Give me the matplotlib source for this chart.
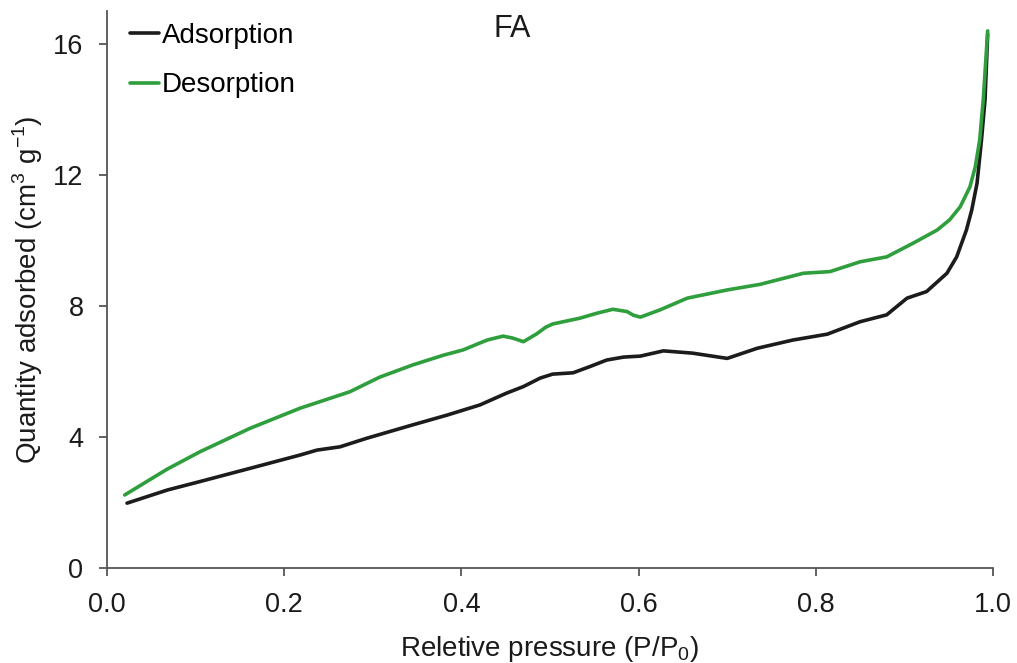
import numpy as np
import matplotlib.pyplot as plt

plt.rcParams['font.family'] = ['Liberation Sans', 'DejaVu Sans']
plt.rcParams['mathtext.fontset'] = 'custom'
plt.rcParams['mathtext.rm'] = 'Liberation Sans'

# adsorption branch (P/P0, cm3/g)
ads_x = [0.0226, 0.068, 0.105, 0.161, 0.218, 0.237, 0.263, 0.293, 0.331, 0.345,
         0.384, 0.421, 0.451, 0.470, 0.489, 0.503, 0.526, 0.545, 0.564, 0.583,
         0.602, 0.628, 0.661, 0.700, 0.734, 0.774, 0.813, 0.850, 0.880, 0.903,
         0.925, 0.948, 0.959, 0.970, 0.976, 0.982, 0.987, 0.991, 0.994]
ads_y = [1.98, 2.38, 2.64, 3.04, 3.45, 3.60, 3.70, 3.96, 4.26, 4.37,
         4.67, 4.98, 5.34, 5.54, 5.80, 5.92, 5.96, 6.15, 6.35, 6.44,
         6.47, 6.63, 6.56, 6.40, 6.71, 6.96, 7.14, 7.52, 7.73, 8.24,
         8.44, 9.00, 9.50, 10.32, 10.93, 11.75, 13.07, 14.30, 16.30]

# desorption branch
des_x = [0.020, 0.068, 0.105, 0.161, 0.218, 0.274, 0.308, 0.345, 0.380, 0.402,
         0.429, 0.447, 0.458, 0.470, 0.485, 0.495, 0.503, 0.534, 0.553, 0.571,
         0.587, 0.594, 0.602, 0.624, 0.655, 0.700, 0.737, 0.786, 0.816, 0.850,
         0.880, 0.910, 0.937, 0.951, 0.963, 0.974, 0.980, 0.985, 0.989, 0.994]
des_y = [2.23, 3.02, 3.55, 4.26, 4.88, 5.38, 5.83, 6.20, 6.50, 6.66,
         6.96, 7.08, 7.02, 6.91, 7.15, 7.35, 7.45, 7.63, 7.78, 7.90,
         7.83, 7.72, 7.66, 7.88, 8.24, 8.49, 8.66, 9.00, 9.05, 9.35,
         9.50, 9.92, 10.32, 10.63, 11.03, 11.64, 12.25, 13.07, 14.30, 16.40]

fig = plt.figure(figsize=(10.17, 6.63), dpi=100)
ax = fig.add_axes([107 / 1017, 1 - 568 / 663, 886 / 1017, (568 - 11.25) / 663])

ax.plot(ads_x, ads_y, color='#1c1c1c', lw=2.6, label='Adsorption',
        solid_capstyle='round', solid_joinstyle='round')
ax.plot(des_x, des_y, color='#2f9e3c', lw=2.6, label='Desorption',
        solid_capstyle='round', solid_joinstyle='round')

ax.set_xlim(0, 1.0)
ax.set_ylim(0, 17)
ax.set_xticks([0.0, 0.2, 0.4, 0.6, 0.8, 1.0])
ax.set_yticks([0, 4, 8, 12, 16])
ax.set_xticklabels(['0.0', '0.2', '0.4', '0.6', '0.8', '1.0'])

for side in ['top', 'right']:
    ax.spines[side].set_visible(False)
for side in ['left', 'bottom']:
    ax.spines[side].set_color('#555555')
    ax.spines[side].set_linewidth(1.3)

ax.tick_params(axis='both', direction='out', length=6, width=1.3, color='#555555',
               labelsize=19.5, labelcolor='#1a1a1a', pad=11)

ax.set_xlabel('Reletive pressure (P/P$_0$)', fontsize=20, color='#1a1a1a', labelpad=12)
ax.set_ylabel('Quantity adsorbed (cm$^3$ g$^{-1}$)', fontsize=20, color='#1a1a1a', labelpad=6)

ax.text(0.457, 16.45, 'FA', fontsize=22, ha='center', va='center', color='#1a1a1a')

ax.legend(loc='upper left', bbox_to_anchor=(0.0135, 0.999), frameon=False, fontsize=20,
          handlelength=1.04, handletextpad=0.1, labelspacing=0.84, borderaxespad=0)

fig.savefig('out.png', dpi=100)
